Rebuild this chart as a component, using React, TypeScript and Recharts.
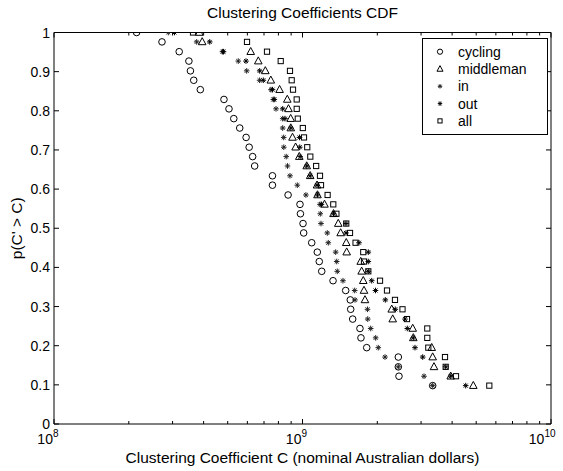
import React from 'react';
import { ScatterChart, Scatter, XAxis, YAxis, ReferenceArea, Legend } from 'recharts';

// Complementary CDF levels p(C' > C), shared by every series
const levels = [
  1.0, 0.976, 0.951, 0.927, 0.902, 0.878, 0.854, 0.829, 0.805, 0.78,
  0.756, 0.732, 0.707, 0.683, 0.659, 0.634, 0.61, 0.585, 0.561, 0.537,
  0.512, 0.488, 0.463, 0.439, 0.415, 0.39, 0.366, 0.341, 0.317, 0.293,
  0.268, 0.244, 0.22, 0.195, 0.171, 0.146, 0.122, 0.098,
];

// Clustering coefficient C (nominal AUD) at each level
const cycling = [
  2.15e8, 2.72e8, 3.19e8, 3.49e8, 3.54e8, 3.65e8, 3.88e8, 4.83e8, 5.06e8, 5.29e8,
  5.59e8, 5.93e8, 6.1e8, 6.3e8, 6.42e8, 7.57e8, 7.57e8, 8.75e8, 9.77e8, 9.81e8,
  1.005e9, 1.011e9, 1.089e9, 1.147e9, 1.168e9, 1.195e9, 1.327e9, 1.492e9, 1.557e9, 1.563e9,
  1.592e9, 1.703e9, 1.719e9, 1.813e9, 2.43e9, 2.43e9, 2.445e9, 3.341e9,
];
const middleman = [
  3.843e8, 3.948e8, 6.188e8, 6.639e8, 7.085e8, 7.456e8, 8.087e8, 8.686e8, 8.783e8, 8.963e8,
  8.972e8, 9.116e8, 9.381e8, 9.707e8, 1.04e9, 1.074e9, 1.144e9, 1.149e9, 1.226e9, 1.333e9,
  1.393e9, 1.424e9, 1.5e9, 1.506e9, 1.715e9, 1.73e9, 1.756e9, 1.768e9, 1.784e9, 2.286e9,
  2.307e9, 2.777e9, 2.792e9, 3.311e9, 3.341e9, 3.382e9, 3.948e9, 4.868e9,
];
const inFlow = [
  2.884e8, 3.751e8, 4.765e8, 5.515e8, 5.963e8, 6.72e8, 7.468e8, 7.63e8, 7.823e8, 8.324e8,
  8.324e8, 8.401e8, 8.409e8, 8.599e8, 8.703e8, 8.905e8, 9.53e8, 1.032e9, 1.176e9, 1.179e9,
  1.187e9, 1.258e9, 1.27e9, 1.36e9, 1.373e9, 1.38e9, 1.455e9, 1.622e9, 1.627e9, 1.826e9,
  1.83e9, 1.881e9, 1.97e9, 2.018e9, 2.148e9, 2.43e9, 3.083e9, 3.341e9,
];
const outFlow = [
  3.054e8, 4.233e8, 4.809e8, 5.924e8, 6.726e8, 6.955e8, 7.573e8, 7.7e8, 8.324e8, 8.504e8,
  8.972e8, 9.725e8, 9.75e8, 9.78e8, 1.04e9, 1.074e9, 1.144e9, 1.149e9, 1.192e9, 1.333e9,
  1.496e9, 1.496e9, 1.688e9, 1.84e9, 1.84e9, 1.84e9, 1.899e9, 1.967e9, 2.154e9, 2.362e9,
  2.585e9, 2.641e9, 2.792e9, 2.836e9, 3.046e9, 3.769e9, 3.948e9, 4.537e9,
];
const allFlows = [
  3.626e8, 5.98e8, 7.197e8, 8.172e8, 8.905e8, 9.047e8, 9.158e8, 9.478e8, 9.478e8, 9.574e8,
  1.003e9, 1.014e9, 1.045e9, 1.075e9, 1.135e9, 1.176e9, 1.187e9, 1.262e9, 1.33e9, 1.369e9,
  1.5e9, 1.553e9, 1.635e9, 1.756e9, 1.768e9, 1.84e9, 2.051e9, 2.188e9, 2.356e9, 2.526e9,
  2.633e9, 3.178e9, 3.178e9, 3.208e9, 3.745e9, 3.769e9, 4.147e9, 5.646e9,
];

const seriesNames = ['cycling', 'middleman', 'in', 'out', 'all'];

const xTicks = [
  1e8, 2e8, 3e8, 4e8, 5e8, 6e8, 7e8, 8e8, 9e8,
  1e9, 2e9, 3e9, 4e9, 5e9, 6e9, 7e9, 8e9, 9e9, 1e10,
];
const xMajorTicks = [1e8, 1e9, 1e10];
const xMajorExponents = ['8', '9', '10'];
const yTicks = [0, 0.1, 0.2, 0.3, 0.4, 0.5, 0.6, 0.7, 0.8, 0.9, 1];
const yTickLabels = ['0', '0.1', '0.2', '0.3', '0.4', '0.5', '0.6', '0.7', '0.8', '0.9', '1'];

const W = 563;
const H = 471;
const LEFT = 54;
const RIGHT = 551;
const TOP = 32.5;
const BOTTOM = 424;
const X_AXIS_H = 30;
const Y_AXIS_W = 40;
const FONT = '"Liberation Sans", Arial, Helvetica, sans-serif';
const LABEL_SIZE = 15.5;

const toPoints = (xs: number[]) => xs.map((x, i) => ({ x, y: levels[i] }));

type MarkerProps = { cx?: number; cy?: number; s?: number; color?: string };

const CircleMark = ({ cx = 0, cy = 0, s = 1 }: MarkerProps) => (
  <circle cx={cx} cy={cy} r={3.3 * s} fill="none" stroke="#000" strokeWidth={1} />
);

const TriangleMark = ({ cx = 0, cy = 0, s = 1 }: MarkerProps) => {
  const h = 4.2 * s;
  const w = 3.8 * s;
  const b = 2.8 * s;
  return (
    <path
      d={`M${cx},${cy - h} L${cx + w},${cy + b} L${cx - w},${cy + b} Z`}
      fill="none"
      stroke="#000"
      strokeWidth={1}
    />
  );
};

const SquareMark = ({ cx = 0, cy = 0, s = 1 }: MarkerProps) => {
  const a = 2.6 * s;
  return (
    <rect x={cx - a} y={cy - a} width={2 * a} height={2 * a} fill="none" stroke="#000" strokeWidth={1} />
  );
};

const StarMark = ({ cx = 0, cy = 0, s = 1, color = '#000' }: MarkerProps) => {
  const r = 2.8 * s;
  const d = r * 0.707;
  return (
    <g stroke={color} strokeWidth={1}>
      <line x1={cx - r} y1={cy} x2={cx + r} y2={cy} />
      <line x1={cx} y1={cy - r} x2={cx} y2={cy + r} />
      <line x1={cx - d} y1={cy - d} x2={cx + d} y2={cy + d} />
      <line x1={cx - d} y1={cy + d} x2={cx + d} y2={cy - d} />
    </g>
  );
};

const IN_COLOR = '#222';
const OUT_COLOR = '#000';

const markerFor = (name: string, cx: number, cy: number, s: number) => {
  switch (name) {
    case 'cycling':
      return <CircleMark cx={cx} cy={cy} s={s} />;
    case 'middleman':
      return <TriangleMark cx={cx} cy={cy} s={s} />;
    case 'in':
      return <StarMark cx={cx} cy={cy} s={s} color={IN_COLOR} />;
    case 'out':
      return <StarMark cx={cx} cy={cy} s={s} color={OUT_COLOR} />;
    default:
      return <SquareMark cx={cx} cy={cy} s={s} />;
  }
};

// Log-axis ticks: inward marks on the bottom and top edges, 10^n labels on decades
const XTick = (props: any) => {
  const { x, payload } = props;
  const v = payload.value as number;
  const mi = xMajorTicks.findIndex((m) => Math.abs(m - v) < m * 1e-6);
  const len = mi >= 0 ? 5 : 3;
  return (
    <g>
      <line x1={x} y1={BOTTOM} x2={x} y2={BOTTOM - len} stroke="#000" />
      <line x1={x} y1={TOP} x2={x} y2={TOP + len} stroke="#000" />
      {mi >= 0 && (
        <text x={x + 4.5} y={BOTTOM + 19.5} textAnchor="end" fontSize={14} fontFamily={FONT} fill="#000">
          <tspan>10</tspan>
          <tspan dy={-7} fontSize={10}>
            {xMajorExponents[mi]}
          </tspan>
        </text>
      )}
    </g>
  );
};

const YTick = (props: any) => {
  const { y, payload, index } = props;
  return (
    <g>
      <line x1={LEFT} y1={y} x2={LEFT + 5} y2={y} stroke="#000" />
      <line x1={RIGHT} y1={y} x2={RIGHT - 5} y2={y} stroke="#000" />
      <text
        x={LEFT - 4}
        y={y}
        textAnchor="end"
        dominantBaseline="central"
        fontSize={14}
        fontFamily={FONT}
        fill="#000"
      >
        {yTickLabels[index] ?? String(payload.value)}
      </text>
    </g>
  );
};

const LEG_X = 422;
const LEG_Y = 38;
const LEG_W = 126;
const LEG_H = 97;

const LegendBox = (props: any) => {
  const payload = ((props.payload || []) as any[])
    .slice()
    .sort((a, b) => seriesNames.indexOf(String(a.value)) - seriesNames.indexOf(String(b.value)));
  return (
    <svg width={LEG_W} height={LEG_H} style={{ display: 'block' }}>
      <rect x={0.5} y={0.5} width={LEG_W - 1} height={LEG_H - 1} fill="#fff" stroke="#000" />
      {payload.map((entry, i) => {
        const cy = 13.7 + i * 17.3;
        return (
          <g key={String(entry.value)}>
            {markerFor(String(entry.value), 18, cy, 0.8)}
            <text x={36} y={cy} dominantBaseline="central" fontSize={14} fontFamily={FONT} fill="#000">
              {entry.value}
            </text>
          </g>
        );
      })}
    </svg>
  );
};

const seriesData = [cycling, middleman, inFlow, outFlow, allFlows];

export default function App() {
  return (
    <div style={{ position: 'absolute', left: 0, top: 0, width: W, height: H, background: '#fff' }}>
      <ScatterChart
        width={W}
        height={H}
        margin={{ top: TOP, right: W - RIGHT, bottom: H - BOTTOM - X_AXIS_H, left: LEFT - Y_AXIS_W }}
        style={{ fontFamily: FONT }}
      >
        <XAxis
          type="number"
          dataKey="x"
          scale="log"
          domain={[1e8, 1e10]}
          allowDataOverflow
          ticks={xTicks}
          interval={0}
          height={X_AXIS_H}
          axisLine={false}
          tickLine={false}
          tick={<XTick />}
        />
        <YAxis
          type="number"
          dataKey="y"
          domain={[0, 1]}
          allowDataOverflow
          ticks={yTicks}
          interval={0}
          width={Y_AXIS_W}
          axisLine={false}
          tickLine={false}
          tick={<YTick />}
        />
        <ReferenceArea x1={1e8} x2={1e10} y1={0} y2={1} fill="none" stroke="#000" strokeWidth={1} fillOpacity={0} />
        {seriesNames.map((name, i) => (
          <Scatter
            key={name}
            name={name}
            data={toPoints(seriesData[i])}
            isAnimationActive={false}
            fill="#000"
            shape={(p: any) => markerFor(name, p.cx, p.cy, 1)}
          />
        ))}
        <Legend
          layout="vertical"
          align="center"
          verticalAlign="middle"
          content={<LegendBox />}
          wrapperStyle={{ position: 'absolute', left: LEG_X, top: LEG_Y, width: LEG_W, height: LEG_H, margin: 0, padding: 0 }}
        />
        <text x={(LEFT + RIGHT) / 2} y={17.5} textAnchor="middle" fontSize={LABEL_SIZE} fontFamily={FONT} fill="#000">
          Clustering Coefficients CDF
        </text>
        <text x={(LEFT + RIGHT) / 2} y={462.5} textAnchor="middle" fontSize={LABEL_SIZE} fontFamily={FONT} fill="#000">
          Clustering Coefficient C (nominal Australian dollars)
        </text>
        <text
          x={22}
          y={(TOP + BOTTOM) / 2}
          transform={`rotate(-90 22 ${(TOP + BOTTOM) / 2})`}
          textAnchor="middle"
          fontSize={LABEL_SIZE}
          fontFamily={FONT}
          fill="#000"
        >
          p(C' &gt; C)
        </text>
      </ScatterChart>
    </div>
  );
}
